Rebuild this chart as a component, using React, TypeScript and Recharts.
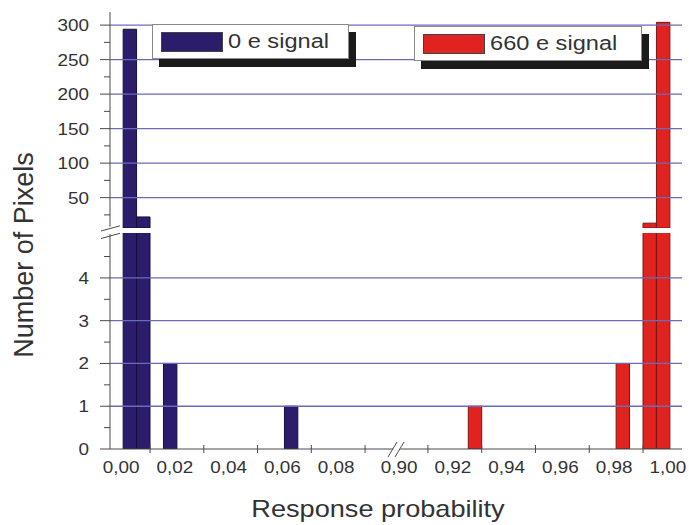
import React from "react"
import { BarChart, Bar, XAxis, YAxis, ReferenceLine, Legend } from "recharts"

// histogram bins are 0.005 wide, positions below are bin centres
const zeroBins = [0.0025, 0.0075, 0.0175, 0.0625]
const zeroCounts = [294, 22, 2, 1]
const signalBins = [0.9275, 0.9825, 0.9925, 0.9975]
const signalCounts = [1, 2, 13, 304]

const leftXTicks = [0, 0.01, 0.02, 0.03, 0.04, 0.05, 0.06, 0.07, 0.08, 0.09]
const rightXTicks = [0.9, 0.91, 0.92, 0.93, 0.94, 0.95, 0.96, 0.97, 0.98, 0.99, 1.0]
const lowerYTicks = [0, 0.5, 1, 1.5, 2, 2.5, 3, 3.5, 4, 4.5]
const lowerGrid = [1, 2, 3, 4]
const upperYTicks = [25, 50, 75, 100, 125, 150, 175, 200, 225, 250, 275, 300]
const upperGrid = [50, 100, 150, 200, 250, 300]

const leftXDomain = [-0.0049, 0.1004]
const rightXDomain = [0.897, 1.0045]
const lowerYDomain = [0, 5.05]
const upperYDomain = [6, 319]

const zeroData = zeroBins.map((p, i) => ({ p, count: zeroCounts[i] }))
const signalData = signalBins.map((p, i) => ({ p, count: signalCounts[i] }))
// above the break only bars that reach past it are drawn
const aboveBreak = (rows: { p: number; count: number }[]) =>
  rows.map((r) => ({ p: r.p, count: r.count > upperYDomain[0] ? r.count : null }))

const GRID = "#6b6bb8"
const AXIS = "#4a4a4a"
const FRAME = "#8c8c8c"
const TEXT = "#333333"
const BLUE = "#2b1c6c"
const BLUE_EDGE = "#150e3a"
const RED = "#e0231e"
const RED_EDGE = "#7d1512"
const STRETCH = 1.18
const FONT = "'Liberation Sans', Arial, sans-serif"
const BAR_W = 13.4

const fmt = (v: number) => v.toFixed(2).replace(".", ",")
const isEven = (v: number) => Math.round(v * 100) % 2 === 0

const YTick = ({ x, y, payload, majorStep }: any) => {
  const v = payload.value
  const major = Math.abs(v / majorStep - Math.round(v / majorStep)) < 1e-6
  return (
    <g>
      <line x1={x - (major ? 10 : 6)} x2={x} y1={y} y2={y} stroke={AXIS} />
      {major && (
        <text
          transform={`translate(${x - 21},${y + 6}) scale(${STRETCH},1)`}
          textAnchor="end"
          fontSize={16}
          fontFamily={FONT}
          fill={TEXT}
        >
          {v}
        </text>
      )}
    </g>
  )
}

const XTick = ({ x, y, payload }: any) => {
  const v = payload.value
  if (!isEven(v)) return <line x1={x} x2={x} y1={y - 4} y2={y + 4} stroke={AXIS} />
  return (
    <text
      transform={`translate(${x - 2},${y + 24}) scale(${STRETCH},1)`}
      textAnchor="middle"
      fontSize={16}
      fontFamily={FONT}
      fill={TEXT}
    >
      {fmt(v)}
    </text>
  )
}

const LegendBox = ({ payload, boxWidth }: any) => (
  <div>
    {(payload || []).map((item: any) => (
      <div
        key={item.value}
        style={{
          width: boxWidth,
          height: 35,
          boxSizing: "border-box",
          border: "1px solid #8a8a8a",
          background: "#fff",
          boxShadow: "7px 8px 0 #1b1b1b",
          display: "flex",
          alignItems: "center",
        }}
      >
        <span
          style={{
            width: 62,
            height: 20,
            marginLeft: 8,
            boxSizing: "border-box",
            background: item.color,
            border: "1px solid #444",
          }}
        />
        <span
          style={{
            marginLeft: 5,
            fontSize: 20,
            fontFamily: FONT,
            color: TEXT,
            transform: `scaleX(${STRETCH})`,
            transformOrigin: "left center",
            whiteSpace: "nowrap",
          }}
        >
          {item.value}
        </span>
      </div>
    ))}
  </div>
)

const pos = (left: number, top: number): React.CSSProperties => ({ position: "absolute", left, top })

export default function App() {
  return (
    <div style={{ position: "absolute", left: 0, top: 0, width: 689, height: 525, background: "#fff", fontFamily: FONT }}>
      <style>{".recharts-surface{overflow:visible}"}</style>

      {/* upper left: 0 e, counts above the break */}
      <div style={pos(0, 0)}>
        <BarChart width={393} height={228} data={aboveBreak(zeroData)} margin={{ top: 12, right: 0, left: 0, bottom: 0 }}>
          <XAxis type="number" dataKey="p" orientation="top" domain={leftXDomain} allowDataOverflow height={0} tick={false} tickLine={false} axisLine={{ stroke: FRAME }} />
          <YAxis
            domain={upperYDomain}
            allowDataOverflow
            ticks={upperYTicks}
            interval={0}
            width={110}
            tickSize={0}
            tickMargin={0}
            tickLine={false}
            axisLine={{ stroke: AXIS }}
            tick={<YTick majorStep={50} />}
          />
          {upperGrid.map((v) => (
            <ReferenceLine key={v} y={v} stroke={GRID} strokeWidth={1.3} />
          ))}
          <Bar dataKey="count" name="0 e signal" fill={BLUE} stroke={BLUE_EDGE} barSize={BAR_W} isAnimationActive={false} />
          <Legend
            layout="horizontal"
            verticalAlign="middle"
            align="center"
            wrapperStyle={{ left: 152, top: 24, width: "auto", height: "auto" }}
            content={(props: any) => <LegendBox {...props} boxWidth={197} />}
          />
        </BarChart>
      </div>

      {/* upper right: 660 e, counts above the break */}
      <div style={pos(393, 0)}>
        <BarChart width={290} height={228} data={aboveBreak(signalData)} margin={{ top: 12, right: 1, left: 0, bottom: 0 }}>
          <XAxis type="number" dataKey="p" orientation="top" domain={rightXDomain} allowDataOverflow height={0} tick={false} tickLine={false} axisLine={{ stroke: FRAME }} />
          <YAxis hide domain={upperYDomain} allowDataOverflow />
          <YAxis yAxisId="frame" orientation="right" width={0} tick={false} tickLine={false} axisLine={{ stroke: FRAME }} />
          {upperGrid.map((v) => (
            <ReferenceLine key={v} y={v} stroke={GRID} strokeWidth={1.3} />
          ))}
          <Bar dataKey="count" name="660 e signal" fill={RED} stroke={RED_EDGE} barSize={BAR_W} isAnimationActive={false} />
          <Legend
            layout="horizontal"
            verticalAlign="middle"
            align="center"
            wrapperStyle={{ left: 21, top: 26, width: "auto", height: "auto" }}
            content={(props: any) => <LegendBox {...props} boxWidth={228} />}
          />
        </BarChart>
      </div>

      {/* lower left: 0 e, counts below the break */}
      <div style={pos(0, 232)}>
        <BarChart width={393} height={293} data={zeroData} margin={{ top: 1, right: 0, left: 0, bottom: 0 }}>
          <XAxis
            type="number"
            dataKey="p"
            domain={leftXDomain}
            allowDataOverflow
            ticks={leftXTicks}
            interval={0}
            height={76}
            tickSize={0}
            tickMargin={0}
            tickLine={false}
            axisLine={{ stroke: AXIS }}
            tick={<XTick />}
          />
          <YAxis
            domain={lowerYDomain}
            allowDataOverflow
            ticks={lowerYTicks}
            interval={0}
            width={110}
            tickSize={0}
            tickMargin={0}
            tickLine={false}
            axisLine={{ stroke: AXIS }}
            tick={<YTick majorStep={1} />}
          />
          {lowerGrid.map((v) => (
            <ReferenceLine key={v} y={v} stroke={GRID} strokeWidth={1.3} />
          ))}
          <Bar dataKey="count" name="0 e signal" fill={BLUE} stroke={BLUE_EDGE} barSize={BAR_W} isAnimationActive={false} />
        </BarChart>
      </div>

      {/* lower right: 660 e, counts below the break */}
      <div style={pos(393, 232)}>
        <BarChart width={290} height={293} data={signalData} margin={{ top: 1, right: 1, left: 0, bottom: 0 }}>
          <XAxis
            type="number"
            dataKey="p"
            domain={rightXDomain}
            allowDataOverflow
            ticks={rightXTicks}
            interval={0}
            height={76}
            tickSize={0}
            tickMargin={0}
            tickLine={false}
            axisLine={{ stroke: AXIS }}
            tick={<XTick />}
          />
          <YAxis hide domain={lowerYDomain} allowDataOverflow />
          <YAxis yAxisId="frame" orientation="right" width={0} tick={false} tickLine={false} axisLine={{ stroke: FRAME }} />
          {lowerGrid.map((v) => (
            <ReferenceLine key={v} y={v} stroke={GRID} strokeWidth={1.3} />
          ))}
          <Bar dataKey="count" name="660 e signal" fill={RED} stroke={RED_EDGE} barSize={BAR_W} isAnimationActive={false} />
        </BarChart>
      </div>

      {/* axis breaks and titles */}
      <svg width={689} height={525} style={{ position: "absolute", left: 0, top: 0, pointerEvents: "none" }}>
        <polygon points="103,228.6 117,224.8 117,232.3 103,236.1" fill="#fff" />
        <line x1={101} y1={231} x2={120} y2={225.8} stroke={AXIS} />
        <line x1={101} y1={238.5} x2={120} y2={233.3} stroke={AXIS} />
        <polygon points="391.5,452 395.5,445.5 402.5,445.5 398.5,452" fill="#fff" />
        <line x1={388} y1={457} x2={397} y2={442} stroke={AXIS} />
        <line x1={395} y1={457} x2={404} y2={442} stroke={AXIS} />
        <text transform="translate(33,255) rotate(-90)" textAnchor="middle" fontSize={27} fontFamily={FONT} fill={TEXT}>
          Number of Pixels
        </text>
        <text transform={`translate(378,517) scale(${STRETCH},1)`} textAnchor="middle" fontSize={23} fontFamily={FONT} fill={TEXT}>
          Response probability
        </text>
      </svg>
    </div>
  )
}
